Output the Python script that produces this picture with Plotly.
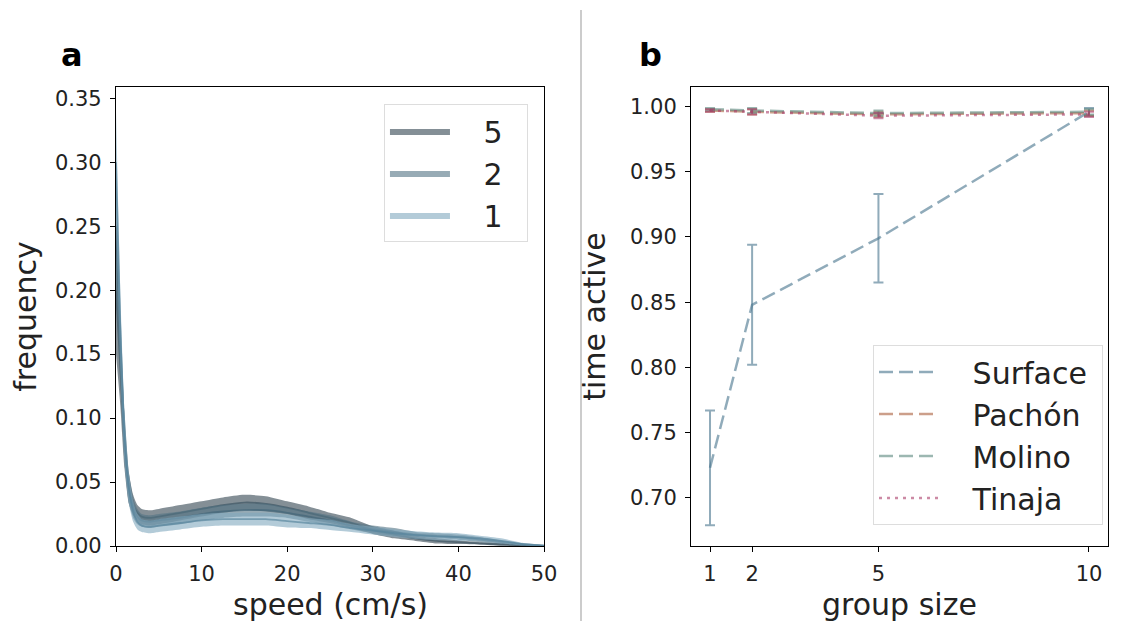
import plotly.graph_objects as go

# ---------------- data: panel a ----------------
speed = [0, 0.5, 1, 1.5, 2, 2.5, 3, 4, 5, 7.5, 10, 12.5, 15, 17.5, 20, 22.5,
         25, 27.5, 30, 32.5, 35, 37.5, 40, 42.5, 45, 47.5, 50]

freq_g5 = [0.20, 0.14, 0.080, 0.045, 0.032, 0.026, 0.023, 0.022, 0.023, 0.026,
           0.029, 0.032, 0.034, 0.033, 0.030, 0.026, 0.022, 0.018, 0.0125,
           0.009, 0.006, 0.004, 0.003, 0.002, 0.0012, 0.0005, 0.0]
err_g5 = [0.05, 0.03, 0.02, 0.012, 0.008, 0.006, 0.006, 0.006, 0.006, 0.006,
          0.006, 0.006, 0.006, 0.006, 0.005, 0.005, 0.004, 0.004, 0.003,
          0.003, 0.002, 0.002, 0.0015, 0.001, 0.001, 0.0005, 0.0]

freq_g2 = [0.25, 0.16, 0.085, 0.046, 0.030, 0.023, 0.020, 0.019, 0.020, 0.022,
           0.025, 0.027, 0.028, 0.028, 0.026, 0.023, 0.020, 0.016, 0.013,
           0.011, 0.009, 0.008, 0.007, 0.005, 0.003, 0.0012, 0.0002]
err_g2 = [0.05, 0.03, 0.02, 0.012, 0.008, 0.006, 0.005, 0.005, 0.005, 0.005,
          0.005, 0.005, 0.005, 0.005, 0.004, 0.004, 0.004, 0.003, 0.003,
          0.003, 0.002, 0.002, 0.002, 0.002, 0.0015, 0.001, 0.0002]

freq_g1 = [0.30, 0.17, 0.085, 0.045, 0.027, 0.019, 0.016, 0.015, 0.016, 0.018,
           0.020, 0.021, 0.021, 0.021, 0.0195, 0.018, 0.0165, 0.014, 0.012,
           0.010, 0.0085, 0.0075, 0.007, 0.006, 0.004, 0.0015, 0.0003]
err_g1 = [0.04, 0.03, 0.02, 0.012, 0.008, 0.006, 0.005, 0.005, 0.005, 0.005,
          0.005, 0.005, 0.005, 0.005, 0.005, 0.004, 0.004, 0.003, 0.003,
          0.003, 0.003, 0.003, 0.003, 0.002, 0.002, 0.001, 0.0003]

group_names = ["5", "2", "1"]

# ---------------- data: panel b ----------------
group_size = [1, 2, 5, 10]
surface = [0.723, 0.848, 0.899, 0.996]
surface_err = [0.044, 0.046, 0.034, 0.003]
pachon = [0.997, 0.996, 0.994, 0.995]
pachon_err = [0.001, 0.002, 0.002, 0.002]
molino = [0.998, 0.997, 0.995, 0.996]
molino_err = [0.001, 0.002, 0.002, 0.002]
tinaja = [0.997, 0.996, 0.993, 0.994]
tinaja_err = [0.001, 0.002, 0.002, 0.002]
series_b = ["Surface", "Pachón", "Molino", "Tinaja"]

FONT = "DejaVu Sans"
NB = "\u00a0"
fig = go.Figure()

band_rgb = [(50, 68, 80), (82, 115, 132), (128, 168, 190)]
line_rgb = [(55, 80, 95), (65, 100, 120), (85, 130, 155)]
groups = [(freq_g5, err_g5), (freq_g2, err_g2), (freq_g1, err_g1)]

for name, (m, e), bc, lc in zip(group_names, groups, band_rgb, line_rgb):
    upper = [a + b for a, b in zip(m, e)]
    lower = [max(a - b, 0) for a, b in zip(m, e)]
    fig.add_trace(go.Scatter(
        x=speed + speed[::-1], y=upper + lower[::-1],
        fill="toself", fillcolor="rgba(%d,%d,%d,0.6)" % bc,
        line=dict(width=0, shape="spline", smoothing=0.6), mode="lines",
        name=NB * 3 + name + NB * 2, legend="legend", xaxis="x", yaxis="y",
        hoverinfo="skip"))
    fig.add_trace(go.Scatter(
        x=speed, y=m, mode="lines",
        line=dict(color="rgba(%d,%d,%d,0.65)" % lc, width=1.8, shape="spline", smoothing=0.6),
        showlegend=False, xaxis="x", yaxis="y"))

b_colors = ["rgba(70,115,140,0.6)", "rgba(170,95,60,0.6)",
            "rgba(90,135,125,0.6)", "rgba(170,60,105,0.6)"]
b_dash = ["14px,6px", "14px,6px", "14px,6px", "3px,5px"]
b_vals = [(surface, surface_err), (pachon, pachon_err),
          (molino, molino_err), (tinaja, tinaja_err)]
for name, (v, e), c, d in zip(series_b, b_vals, b_colors, b_dash):
    fig.add_trace(go.Scatter(
        x=group_size, y=v, mode="lines", name=NB * 3 + name + NB,
        line=dict(color=c, width=2.5, dash=d),
        error_y=dict(type="data", array=e, visible=True, color=c,
                     thickness=2, width=5),
        legend="legend2", xaxis="x2", yaxis="y2"))

axis_common = dict(showline=True, linecolor="black", linewidth=1.2, mirror=True,
                   ticks="outside", ticklen=5, tickwidth=1.2, tickcolor="black",
                   showgrid=False, zeroline=False, ticklabelstandoff=4,
                   automargin=False,
                   tickfont=dict(family=FONT, size=21, color="#222"))

XDOM_A = [0.0961, 0.4769]
XDOM_B = [0.6077, 0.9786]
YDOM = [0.1223, 0.8711]

fig.update_layout(
    width=1124, height=613,
    margin=dict(l=0, r=0, t=0, b=0),
    paper_bgcolor="white", plot_bgcolor="white",
    font=dict(family=FONT, color="#222"),
    xaxis=dict(domain=XDOM_A, range=[0, 50], tickvals=[0, 10, 20, 30, 40, 50],
               anchor="y", **axis_common),
    yaxis=dict(domain=YDOM, range=[0, 0.3588],
               tickvals=[0, 0.05, 0.10, 0.15, 0.20, 0.25, 0.30, 0.35], tickformat=".2f",
               title=dict(text="frequency", font=dict(size=30)),
               anchor="x", **axis_common),
    xaxis2=dict(domain=XDOM_B, range=[0.55, 10.45], tickvals=[1, 2, 5, 10],
                anchor="y2", **axis_common),
    yaxis2=dict(domain=YDOM, range=[0.663, 1.015],
                tickvals=[0.70, 0.75, 0.80, 0.85, 0.90, 0.95, 1.00], tickformat=".2f",
                title=dict(text="time active", font=dict(size=30)),
                anchor="x2", **axis_common),
    legend=dict(x=0.4626, y=0.8434, xanchor="right", yanchor="top",
                bgcolor="rgba(255,255,255,0.8)", bordercolor="#ddd", borderwidth=1,
                font=dict(family=FONT, size=30, color="#222"), itemwidth=60,
                traceorder="normal"),
    legend2=dict(x=0.9742, y=0.4502, xanchor="right", yanchor="top",
                 bgcolor="rgba(255,255,255,0.8)", bordercolor="#ddd", borderwidth=1,
                 font=dict(family=FONT, size=30, color="#222"), itemwidth=60,
                 traceorder="normal"),
    shapes=[dict(type="line", xref="paper", yref="paper", x0=0.5098, x1=0.5098,
                 y0=-0.05, y1=0.9967, line=dict(color="#cccccc", width=2))],
    annotations=[
        dict(text="<b>a</b>", x=0.0569, y=0.9233, xref="paper", yref="paper",
             xanchor="center", yanchor="middle",
             showarrow=False, font=dict(family=FONT, size=32, color="black")),
        dict(text="<b>b</b>", x=0.5712, y=0.9233, xref="paper", yref="paper",
             xanchor="center", yanchor="middle",
             showarrow=False, font=dict(family=FONT, size=32, color="black")),
        dict(text="speed (cm/s)", x=sum(XDOM_A) / 2, y=0.0277, xref="paper", yref="paper",
             xanchor="center", yanchor="middle", showarrow=False,
             font=dict(family=FONT, size=30, color="#222")),
        dict(text="group size", x=sum(XDOM_B) / 2, y=0.0277, xref="paper", yref="paper",
             xanchor="center", yanchor="middle", showarrow=False,
             font=dict(family=FONT, size=30, color="#222")),
    ],
)

fig.write_html("out.html")
